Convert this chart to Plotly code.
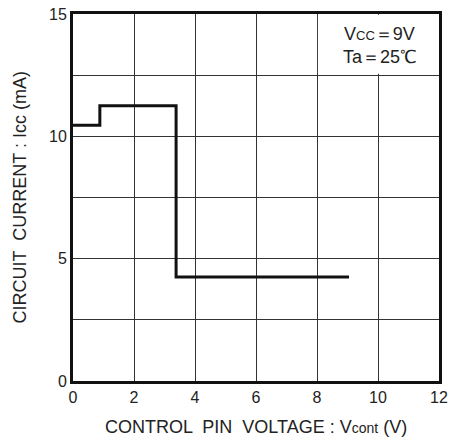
import plotly.graph_objects as go

# data (step curve)
vcont = [0, 0.88, 0.88, 3.38, 3.38, 9.05]
icc = [10.45, 10.45, 11.25, 11.25, 4.25, 4.25]

x_ticks = [0, 2, 4, 6, 8, 10, 12]
y_grid = [0, 2.5, 5, 7.5, 10, 12.5, 15]
y_labels = ["0", "", "5", "", "10", "", "15"]

fig = go.Figure()
fig.add_trace(go.Scatter(x=vcont, y=icc, mode="lines",
                         line=dict(color="#111", width=3), showlegend=False,
                         hoverinfo="skip"))

font = dict(family="Liberation Sans, Arial, sans-serif", size=16, color="#222")

fig.update_layout(
    width=449, height=440,
    margin=dict(l=73, r=10, t=14, b=59),
    paper_bgcolor="white", plot_bgcolor="white",
    font=font,
    xaxis=dict(range=[0, 12], tickvals=x_ticks, ticks="", showgrid=True,
               gridcolor="#333", gridwidth=1, zeroline=False, automargin=False,
               showline=True, linecolor="#111", linewidth=3, mirror=True),
    yaxis=dict(range=[0, 15], tickvals=y_grid, ticktext=y_labels, ticks="",
               showgrid=True, gridcolor="#333", gridwidth=1, zeroline=False,
               automargin=False,
               showline=True, linecolor="#111", linewidth=3, mirror=True),
)

fig.add_annotation(xref="paper", yref="paper", x=0.5, y=-0.125, yanchor="middle",
                   text="CONTROL  PIN  VOLTAGE : V<span style='font-size:14px'>cont</span> (V)",
                   showarrow=False, font=dict(size=18, color="#222"))
fig.add_annotation(xref="paper", yref="paper", x=-0.145, y=0.5, xanchor="center",
                   textangle=-90,
                   text="CIRCUIT  CURRENT : Icc (mA)",
                   showarrow=False, font=dict(size=18, color="#222"))

fig.add_shape(type="rect", xref="x", yref="y", x0=8.03, x1=11.97, y0=12.56, y1=14.97,
              fillcolor="white", line=dict(width=0), layer="above")
fig.add_annotation(xref="x", yref="y", x=10.05, y=14.2,
                   text="V<span style='font-size:13px'>CC</span>＝9V", showarrow=False,
                   font=dict(size=18, color="#222"))
fig.add_annotation(xref="x", yref="y", x=10.05, y=13.25,
                   text="Ta＝25℃", showarrow=False,
                   font=dict(size=18, color="#222"))

fig.write_html("out.html", config={"displayModeBar": False},
               post_script="document.body.style.margin='0';document.body.style.overflow='hidden';")
